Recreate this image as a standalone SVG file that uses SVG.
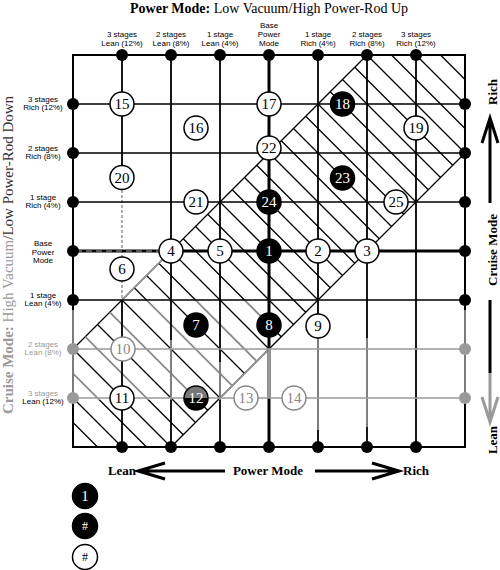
<svg xmlns="http://www.w3.org/2000/svg" width="500" height="570" viewBox="0 0 500 570">
<defs>
<style>
.ln{stroke:#000;stroke-width:1.5;fill:none}
.vl{stroke:#000;stroke-width:1.8;fill:none}
.gl{stroke:#9a9a9a;stroke-width:1.6;fill:none}
.dot{fill:#000}
.gdot{fill:#9a9a9a}
.n circle{fill:#fff;stroke:#000;stroke-width:1.5}
.n text{font-family:"Liberation Serif","Times New Roman",serif;font-size:15px;text-anchor:middle;fill:#000}
.b circle{fill:#000}
.b text{fill:#fff}
.g circle{stroke:#888}
.g text{fill:#888}
.lab{font-family:"Liberation Sans",Arial,sans-serif;font-size:8px;text-anchor:middle;fill:#000}
.glab{fill:#9a9a9a}
.bt{font-family:"Liberation Serif","Times New Roman",serif;font-weight:bold;font-size:13px;text-anchor:middle;fill:#000}
.hatch{stroke:#000;stroke-width:1.3;fill:none}
.ghatch{stroke:#9a9a9a;stroke-width:1.5;fill:none}
.arr{stroke:#000;stroke-width:3;fill:none;stroke-linejoin:miter}
.garr{stroke:#9a9a9a;stroke-width:3;fill:none}
</style>
<linearGradient id="g12" x1="0" y1="0" x2="0" y2="1"><stop offset="0.5" stop-color="#777"/><stop offset="0.5" stop-color="#000"/></linearGradient>
<clipPath id="cl"><rect x="73" y="300" width="200" height="100"/></clipPath>
</defs>
<rect width="500" height="570" fill="#fff"/>

<text x="269" y="13" font-family="Liberation Serif, Times New Roman, serif" font-size="14" text-anchor="middle"><tspan font-weight="bold">Power Mode:</tspan> Low Vacuum/High Power-Rod Up</text>

<g id="col-labels" class="lab">
<text x="122" y="36.5">3 stages</text><text x="122" y="45.5">Lean (12%)</text>
<text x="171" y="36.5">2 stages</text><text x="171" y="45.5">Lean (8%)</text>
<text x="220" y="36.5">1 stage</text><text x="220" y="45.5">Lean (4%)</text>
<text x="269" y="27.5">Base</text><text x="269" y="36.5">Power</text><text x="269" y="45.5">Mode</text>
<text x="318" y="36.5">1 stage</text><text x="318" y="45.5">Rich (4%)</text>
<text x="367" y="36.5">2 stages</text><text x="367" y="45.5">Rich (8%)</text>
<text x="416" y="36.5">3 stages</text><text x="416" y="45.5">Rich (12%)</text>
</g>

<g id="row-labels" class="lab">
<text x="43" y="101.5">3 stages</text><text x="43" y="110">Rich (12%)</text>
<text x="43" y="150.5">2 stages</text><text x="43" y="159">Rich (8%)</text>
<text x="43" y="199.5">1 stage</text><text x="43" y="208">Rich (4%)</text>
<text x="43" y="246">Base</text><text x="43" y="254.5">Power</text><text x="43" y="263">Mode</text>
<text x="43" y="297.5">1 stage</text><text x="43" y="306">Lean (4%)</text>
<text x="43" y="346.5" class="glab">2 stages</text><text x="43" y="355" class="glab">Lean (8%)</text>
<text x="43" y="395.5" class="glab">3 stages</text><text x="43" y="404">Lean (12%)</text>
</g>

<text x="13" y="255" transform="rotate(-90 13 255)" font-family="Liberation Serif, Times New Roman, serif" font-size="15" text-anchor="middle" fill="#9a9a9a"><tspan font-weight="bold">Cruise Mode:</tspan> High Vacuum<tspan fill="#333">/Low Power-Rod Down</tspan></text>

<g id="hatch">
<path class="hatch" d="M440.5,55L465,79.5M416,55L465,104M391.5,55L465,128.5
M367,55l98,98M354.75,67.25l98,98M342.5,79.5l98,98M330.25,91.75l98,98M318,104l98,98
M305.75,116.25l98,98M293.5,128.5l98,98M281.25,140.75l98,98M269,153l98,98M256.75,165.25l98,98
M244.5,177.5l98,98M232.25,189.75l98,98M220,202l98,98M207.75,214.25l98,98M195.5,226.5l98,98
M183.25,238.75l98,98M171,251l98,98M158.75,263.25l98,98M146.5,275.5l98,98M134.25,287.75l98,98
M122,300l98,98M109.75,312.25l98,98M97.5,324.5l98,98M85.25,336.75l98,98M73,349l98,98
M73,373.5L146.5,447M73,398L122,447M73,422.5L97.5,447
M73,349L367,55M171,447L465,153"/>
<path class="ghatch" clip-path="url(#cl)" d="M207.75,214.25l98,98M183.25,238.75l98,98M158.75,263.25l98,98M134.25,287.75l98,98M109.75,312.25l98,98M85.25,336.75l98,98M73,373.5L146.5,447"/>
<path class="ghatch" d="M122,300L171,251M269,349L220,398"/>
</g>

<g id="connectors">
<rect x="73" y="55" width="392" height="392" fill="none" stroke="#000" stroke-width="2"/>
<path class="vl" d="M122,55V190M122,300V447M171,55V447M220,55V447M318,55V447M367,55V447M416,55V447"/>
<path class="gl" stroke-dasharray="3 2" d="M122,190V300"/>
<path stroke="#000" stroke-width="3" fill="none" d="M269,55V447"/>
<path class="ln" d="M73,104H465M73,153H465M73,202H465M73,300H465"/>
<path stroke="#000" stroke-width="3" fill="none" d="M73,251H465"/>
<path stroke="#aaa" stroke-width="1.2" stroke-dasharray="6 4" fill="none" d="M76,251H160"/>
<path class="gl" d="M73,349H465M73,398H465"/>
<path class="gl" stroke-width="1.8" d="M171,340V400M220,362V400M318,338V430M367,338V427M73,310V398M465,310V398"/>
<path stroke="#9a9a9a" stroke-width="3" fill="none" d="M269,349V398"/>
</g>

<g id="dots">
<g class="dot">
<circle cx="122" cy="55" r="6"/><circle cx="171" cy="55" r="6"/><circle cx="220" cy="55" r="6"/><circle cx="269" cy="55" r="6"/><circle cx="318" cy="55" r="6"/><circle cx="367" cy="55" r="6"/><circle cx="416" cy="55" r="6"/>
<circle cx="122" cy="447" r="6"/><circle cx="171" cy="447" r="6"/><circle cx="220" cy="447" r="6"/><circle cx="269" cy="447" r="6"/><circle cx="318" cy="447" r="6"/><circle cx="367" cy="447" r="6"/><circle cx="416" cy="447" r="6"/>
<circle cx="73" cy="104" r="6"/><circle cx="73" cy="153" r="6"/><circle cx="73" cy="202" r="6"/><circle cx="73" cy="251" r="6"/><circle cx="73" cy="300" r="6"/>
<circle cx="465" cy="104" r="6"/><circle cx="465" cy="153" r="6"/><circle cx="465" cy="202" r="6"/><circle cx="465" cy="251" r="6"/><circle cx="465" cy="300" r="6"/>
</g>
<g class="gdot">
<circle cx="73" cy="349" r="6"/><circle cx="73" cy="398" r="6"/><circle cx="465" cy="349" r="6"/><circle cx="465" cy="398" r="6"/>
</g>
</g>

<g id="node-1" class="n b"><circle cx="269" cy="251" r="12"/><text x="269" y="256">1</text></g>
<g id="node-2" class="n"><circle cx="318" cy="251" r="12"/><text x="318" y="256">2</text></g>
<g id="node-3" class="n"><circle cx="367" cy="251" r="12"/><text x="367" y="256">3</text></g>
<g id="node-4" class="n"><circle cx="171" cy="251" r="12"/><text x="171" y="256">4</text></g>
<g id="node-5" class="n"><circle cx="220" cy="251" r="12"/><text x="220" y="256">5</text></g>
<g id="node-6" class="n"><circle cx="122" cy="269" r="12"/><text x="122" y="274">6</text></g>
<g id="node-7" class="n b"><circle cx="196" cy="325" r="12"/><text x="196" y="330">7</text></g>
<g id="node-8" class="n b"><circle cx="269" cy="325" r="12"/><text x="269" y="330">8</text></g>
<g id="node-9" class="n"><circle cx="318" cy="326" r="12"/><text x="318" y="331">9</text></g>
<g id="node-10" class="n g"><circle cx="123" cy="349" r="12"/><text x="123" y="354">10</text></g>
<g id="node-11" class="n"><circle cx="122" cy="398" r="12"/><text x="122" y="403">11</text></g>
<g id="node-12" class="n b"><circle cx="196" cy="398" r="12" fill="url(#g12)" style="fill:url(#g12)"/><text x="196" y="403">12</text></g>
<g id="node-13" class="n g"><circle cx="246" cy="398" r="12"/><text x="246" y="403">13</text></g>
<g id="node-14" class="n g"><circle cx="294" cy="398" r="12"/><text x="294" y="403">14</text></g>
<g id="node-15" class="n"><circle cx="122" cy="104" r="12"/><text x="122" y="109">15</text></g>
<g id="node-16" class="n"><circle cx="196" cy="128" r="12"/><text x="196" y="133">16</text></g>
<g id="node-17" class="n"><circle cx="269" cy="104" r="12"/><text x="269" y="109">17</text></g>
<g id="node-18" class="n b"><circle cx="342.5" cy="104" r="12"/><text x="342.5" y="109">18</text></g>
<g id="node-19" class="n"><circle cx="416" cy="128" r="12"/><text x="416" y="133">19</text></g>
<g id="node-20" class="n"><circle cx="122" cy="177.5" r="12"/><text x="122" y="182.5">20</text></g>
<g id="node-21" class="n"><circle cx="196" cy="202" r="12"/><text x="196" y="207">21</text></g>
<g id="node-22" class="n"><circle cx="269" cy="148" r="12"/><text x="269" y="153">22</text></g>
<g id="node-23" class="n b"><circle cx="342.5" cy="178" r="12"/><text x="342.5" y="183">23</text></g>
<g id="node-24" class="n b"><circle cx="269" cy="202" r="12"/><text x="269" y="207">24</text></g>
<g id="node-25" class="n"><circle cx="396" cy="202" r="12"/><text x="396" y="207">25</text></g>

<g id="axis-power">
<path class="arr" d="M140,471H225M165,463L138,471L165,479M315,471H398M372,463L399,471L372,479"/>
<text class="bt" x="122" y="475">Lean</text>
<text class="bt" x="268" y="475">Power Mode</text>
<text class="bt" x="416" y="475">Rich</text>
</g>

<g id="axis-cruise">
<path class="arr" d="M490,203V120M482,143L490,118L498,143M490,300V373"/>
<path class="garr" d="M490,373V421M482,397L490,422L498,397"/>
<text class="bt" x="497" y="92" transform="rotate(-90 497 92)">Rich</text>
<text class="bt" x="497" y="250" transform="rotate(-90 497 250)">Cruise Mode</text>
<text class="bt" x="497" y="440" transform="rotate(-90 497 440)">Lean</text>
</g>

<g id="legend">
<g id="legend-1" class="n b"><circle cx="85" cy="496" r="12.5"/><text x="85" y="501">1</text></g>
<g id="legend-2" class="n b"><circle cx="85" cy="526" r="12.5"/><text x="85" y="530" style="font-size:12px">#</text></g>
<g id="legend-3" class="n"><circle cx="85" cy="557" r="12.5"/><text x="85" y="561" style="font-size:12px">#</text></g>
</g>
</svg>
